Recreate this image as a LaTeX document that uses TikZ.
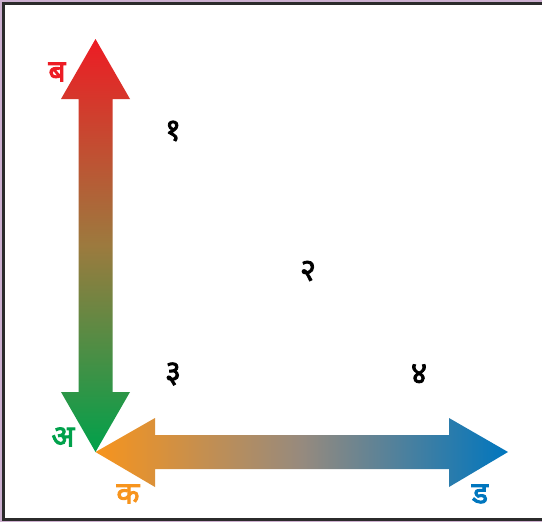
\documentclass[tikz,border=0pt]{standalone}
\usepackage{fontspec}
\newfontfamily\devab[Script=Devanagari, FakeBold=3]{Noto Sans}
\newfontfamily\devad[Script=Devanagari, FakeBold=2.5]{Noto Sans}
\definecolor{framegray}{HTML}{2B2B2B}
\definecolor{framepurple}{HTML}{CDB0D0}
\definecolor{arred}{HTML}{ED1C24}
\definecolor{argreen}{HTML}{00A14B}
\definecolor{armidv}{HTML}{9C7A3E}
\definecolor{arorange}{HTML}{F7941D}
\definecolor{arblue}{HTML}{0076BE}
\definecolor{armidh}{HTML}{968A7E}
\tikzset{
  axislabel/.style={font=\devab\fontsize{30}{30}\selectfont, inner sep=0pt},
  digitlabel/.style={font=\devad\fontsize{31}{31}\selectfont, inner sep=0pt, text=black},
}
\begin{document}
\begin{tikzpicture}[x=1pt,y=-1pt]
\useasboundingbox (0,0) rectangle (542,522);
% frame
\fill[framepurple] (0,0) rectangle (542,522);
\fill[white] (2,2) rectangle (542,521);
\fill[framegray] (2,2) rectangle (542,5);
\fill[framegray] (2,2) rectangle (5,521);
\fill[framegray] (2,517.5) rectangle (542,520.5);
% vertical double arrow
\shade[top color=arred, bottom color=argreen, middle color=armidv]
  (95.5,39) -- (130,99) -- (112.5,99) -- (112.5,392) -- (130,392) -- (95.5,452)
  -- (61,392) -- (78.5,392) -- (78.5,99) -- (61,99) -- cycle;
% horizontal double arrow
\shade[left color=arorange, right color=arblue, middle color=armidh]
  (95.5,452) -- (155,418) -- (155,435) -- (449,435) -- (449,418) -- (508,452)
  -- (449,487) -- (449,469) -- (155,469) -- (155,487) -- cycle;
% axis labels
\node[axislabel, text=arred] (b) at (57,72) {ब};
\node[axislabel, text=argreen] (a) at (63,437) {अ};
\node[axislabel, text=arorange] (k) at (128,494) {क};
\node[axislabel, text=arblue] (d) at (480,494) {ड};
% digits
\node[digitlabel] (n1) at (173,131) {१};
\node[digitlabel] (n2) at (308,271) {२};
\node[digitlabel] (n3) at (173,374) {३};
\node[digitlabel] (n4) at (419,374) {४};
\end{tikzpicture}
\end{document}
